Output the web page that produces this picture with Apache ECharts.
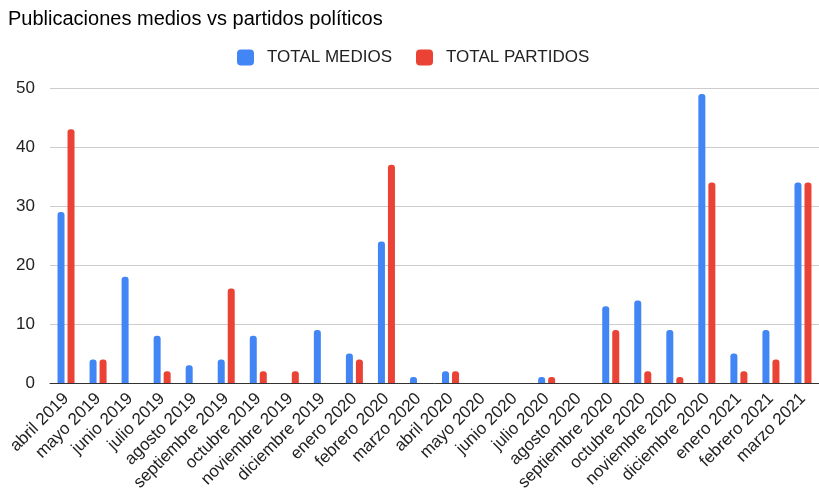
<!DOCTYPE html>
<html><head><meta charset="utf-8">
<script src="https://cdn.jsdelivr.net/npm/echarts@6/dist/echarts.min.js"></script>
<style>html,body{margin:0;padding:0;background:#fff}#c{width:819px;height:494px}</style>
</head><body><div id="c"></div>
<script>
const categories = ["abril 2019","mayo 2019","junio 2019","julio 2019","agosto 2019","septiembre 2019","octubre 2019","noviembre 2019","diciembre 2019","enero 2020","febrero 2020","marzo 2020","abril 2020","mayo 2020","junio 2020","julio 2020","agosto 2020","septiembre 2020","octubre 2020","noviembre 2020","diciembre 2020","enero 2021","febrero 2021","marzo 2021"];
const totalMedios = [29,4,18,8,3,4,8,0,9,5,24,1,2,0,0,1,0,13,14,9,49,5,9,34];
const totalPartidos = [43,4,0,2,0,16,2,2,0,4,37,0,2,0,0,1,0,9,2,1,34,2,4,34];
const yTicks = [0,10,20,30,40,50];

const chart = echarts.init(document.getElementById('c'));
const font = 'Liberation Sans, Arial, sans-serif';
chart.setOption({
  animation: false,
  textStyle: {fontFamily: font},
  title: {text: 'Publicaciones medios vs partidos políticos', left: 3, top: 4,
    textStyle: {fontSize: 20, fontWeight: 'normal', color: '#000', fontFamily: font}},
  legend: {top: 44, left: 232, itemWidth: 17, itemHeight: 16, itemGap: 24,
    icon: 'roundRect',
    textStyle: {fontSize: 17, color: '#222', fontFamily: font, padding: [0, 0, 0, 8]},
    data: ['TOTAL MEDIOS','TOTAL PARTIDOS']},
  grid: {left: 50, right: 0, top: 88, bottom: 111},
  xAxis: {type: 'category', data: categories,
    axisLine: {lineStyle: {color: '#333', width: 1}},
    axisTick: {show: false},
    axisLabel: {rotate: 45, fontSize: 17, color: '#222', margin: 13, interval: 0, fontFamily: font}},
  yAxis: {type: 'value', min: 0, max: 50, interval: 10,
    axisLine: {show: false}, axisTick: {show: false},
    splitLine: {lineStyle: {color: '#ccc', width: 1}},
    axisLabel: {fontSize: 17, color: '#222', margin: 15, fontFamily: font,
      formatter: v => yTicks.includes(v) ? String(v) : ''}},
  series: [
    {name: 'TOTAL MEDIOS', type: 'bar', data: totalMedios, barWidth: 7, barGap: '43%',
      itemStyle: {color: '#4285F4', borderRadius: [3,3,0,0]}},
    {name: 'TOTAL PARTIDOS', type: 'bar', data: totalPartidos, barWidth: 7,
      itemStyle: {color: '#EA4335', borderRadius: [3,3,0,0]}}
  ]
});
</script></body></html>
